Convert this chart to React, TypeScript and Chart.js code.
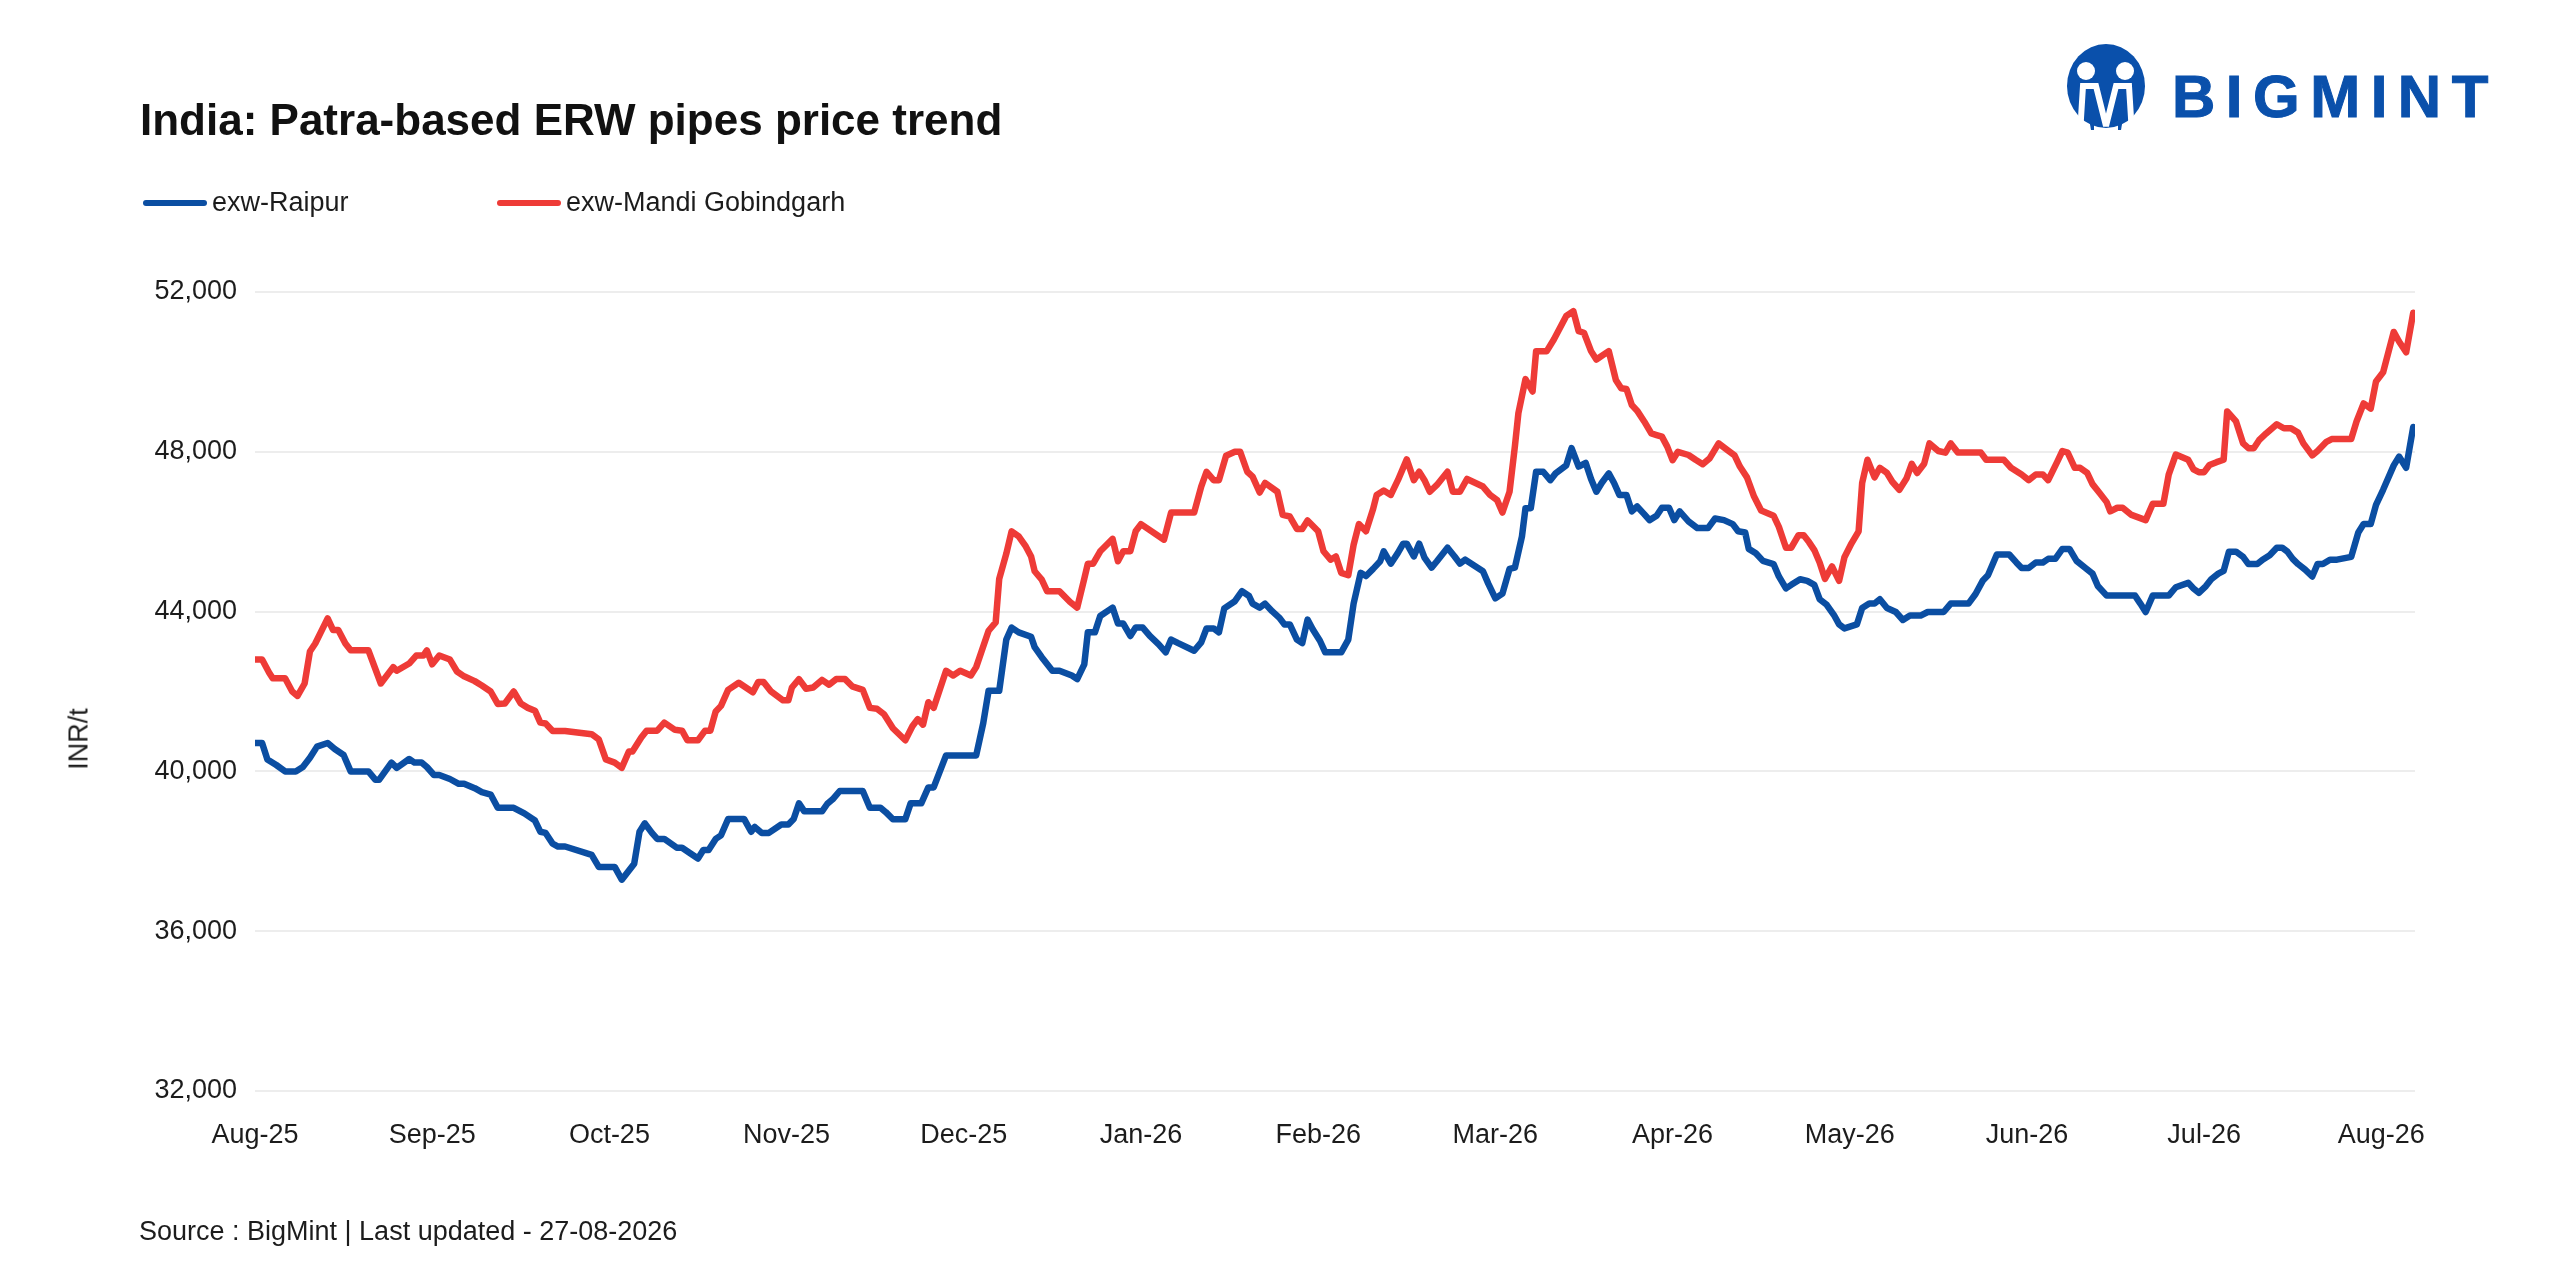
import { useEffect, useRef } from "react";
import { Chart, registerables } from "chart.js";
Chart.register(...registerables);

const monthLabels = ["Aug-25", "Sep-25", "Oct-25", "Nov-25", "Dec-25", "Jan-26", "Feb-26", "Mar-26", "Apr-26", "May-26", "Jun-26", "Jul-26", "Aug-26"];
const priceTicks = [32000, 36000, 40000, 44000, 48000, 52000];

// t = months elapsed since Aug-25
const raipurT = [
  0.00, 0.04, 0.07, 0.12, 0.17, 0.23, 0.27, 0.31, 0.35, 0.41, 0.45, 0.50, 0.54, 0.64, 0.68, 0.70, 0.77, 0.80, 0.87, 0.90,
  0.94, 0.97, 1.01, 1.04, 1.10, 1.15, 1.18, 1.24, 1.28, 1.33, 1.37, 1.46, 1.52, 1.58, 1.61, 1.64, 1.68, 1.71, 1.75, 1.90,
  1.94, 2.03, 2.07, 2.14, 2.17, 2.20, 2.24, 2.27, 2.31, 2.38, 2.41, 2.46, 2.50, 2.53, 2.56, 2.60, 2.63, 2.67, 2.76, 2.80,
  2.82, 2.86, 2.90, 2.97, 3.01, 3.04, 3.07, 3.10, 3.20, 3.23, 3.26, 3.30, 3.43, 3.47, 3.53, 3.56, 3.60, 3.67, 3.70, 3.76,
  3.80, 3.83, 3.90, 4.07, 4.11, 4.14, 4.20, 4.24, 4.27, 4.31, 4.38, 4.40, 4.44, 4.50, 4.54, 4.61, 4.64, 4.68, 4.70, 4.74,
  4.77, 4.84, 4.87, 4.90, 4.94, 4.97, 5.01, 5.05, 5.10, 5.14, 5.17, 5.21, 5.30, 5.34, 5.37, 5.41, 5.44, 5.47, 5.53, 5.57,
  5.61, 5.63, 5.67, 5.70, 5.74, 5.78, 5.81, 5.84, 5.88, 5.91, 5.94, 5.97, 6.01, 6.04, 6.13, 6.17, 6.20, 6.24, 6.27, 6.31,
  6.35, 6.37, 6.41, 6.45, 6.48, 6.50, 6.54, 6.57, 6.60, 6.64, 6.67, 6.73, 6.77, 6.80, 6.83, 6.93, 6.96, 7.00, 7.04, 7.08,
  7.11, 7.15, 7.17, 7.20, 7.23, 7.27, 7.31, 7.34, 7.40, 7.43, 7.47, 7.51, 7.54, 7.57, 7.60, 7.64, 7.67, 7.70, 7.74, 7.77,
  7.80, 7.84, 7.87, 7.91, 7.94, 7.98, 8.01, 8.04, 8.09, 8.14, 8.20, 8.24, 8.29, 8.34, 8.37, 8.41, 8.43, 8.47, 8.51, 8.57,
  8.60, 8.64, 8.67, 8.72, 8.76, 8.80, 8.83, 8.87, 8.91, 8.94, 8.97, 9.04, 9.07, 9.11, 9.14, 9.17, 9.21, 9.26, 9.30, 9.34,
  9.40, 9.44, 9.53, 9.57, 9.67, 9.71, 9.75, 9.78, 9.83, 9.90, 9.94, 9.97, 10.01, 10.05, 10.09, 10.12, 10.16, 10.20, 10.24, 10.28,
  10.33, 10.37, 10.40, 10.45, 10.61, 10.64, 10.67, 10.71, 10.80, 10.84, 10.91, 10.94, 10.97, 11.01, 11.04, 11.08, 11.11, 11.14, 11.18, 11.22,
  11.25, 11.30, 11.33, 11.37, 11.41, 11.44, 11.47, 11.50, 11.53, 11.57, 11.61, 11.64, 11.67, 11.71, 11.75, 11.83, 11.87, 11.90, 11.94, 11.97,
  12.01, 12.07, 12.10, 12.14, 12.18,
];
const raipurPrice = [
  40710, 40710, 40300, 40160, 40000, 40000, 40110, 40340, 40620, 40710, 40560, 40410, 40000, 40000, 39790, 39790, 40220, 40090, 40310, 40220,
  40220, 40110, 39910, 39910, 39810, 39690, 39690, 39580, 39480, 39420, 39090, 39090, 38950, 38770, 38490, 38460, 38190, 38120, 38120, 37910,
  37610, 37610, 37290, 37690, 38490, 38700, 38460, 38310, 38310, 38090, 38090, 37940, 37820, 38030, 38030, 38310, 38400, 38810, 38810, 38490,
  38610, 38460, 38460, 38670, 38670, 38810, 39200, 39000, 39000, 39190, 39300, 39510, 39510, 39090, 39090, 38980, 38800, 38800, 39200, 39200,
  39600, 39600, 40400, 40400, 41210, 42020, 42020, 43300, 43600, 43480, 43370, 43110, 42860, 42520, 42520, 42400, 42310, 42680, 43480, 43480,
  43890, 44100, 43700, 43700, 43390, 43600, 43600, 43390, 43180, 42980, 43300, 43210, 43020, 43230, 43580, 43580, 43480, 44080, 44260, 44510,
  44390, 44200, 44100, 44200, 44010, 43850, 43680, 43680, 43300, 43210, 43800, 43550, 43270, 42980, 42980, 43300, 44200, 44970, 44890, 45070,
  45260, 45510, 45200, 45470, 45700, 45700, 45380, 45700, 45350, 45100, 45260, 45600, 45380, 45200, 45300, 45010, 44700, 44330, 44450, 45070,
  45100, 45880, 46590, 46590, 47500, 47500, 47290, 47460, 47660, 48090, 47630, 47720, 47320, 47000, 47220, 47460, 47220, 46920, 46920, 46510,
  46630, 46440, 46290, 46400, 46600, 46600, 46290, 46510, 46260, 46090, 46090, 46330, 46290, 46190, 46010, 45980, 45570, 45460, 45270, 45190,
  44880, 44580, 44670, 44810, 44770, 44670, 44310, 44170, 43920, 43680, 43580, 43680, 44090, 44200, 44200, 44310, 44090, 43990, 43790, 43900,
  43900, 43990, 43990, 44200, 44200, 44440, 44770, 44910, 45430, 45430, 45230, 45090, 45090, 45230, 45230, 45320, 45320, 45570, 45570, 45270,
  45090, 44950, 44640, 44400, 44400, 44200, 43990, 44400, 44400, 44610, 44720, 44580, 44470, 44640, 44810, 44950, 45020, 45500, 45500, 45370,
  45190, 45190, 45300, 45410, 45600, 45600, 45500, 45320, 45190, 45050, 44880, 45190, 45190, 45300, 45300, 45370, 45980, 46190, 46190, 46670,
  47050, 47660, 47880, 47600, 48620,
];

const gobindgarhT = [
  0.00, 0.04, 0.08, 0.10, 0.17, 0.21, 0.24, 0.28, 0.31, 0.34, 0.41, 0.44, 0.47, 0.51, 0.54, 0.64, 0.71, 0.78, 0.80, 0.87,
  0.91, 0.95, 0.97, 1.00, 1.04, 1.10, 1.14, 1.18, 1.24, 1.28, 1.33, 1.37, 1.41, 1.46, 1.50, 1.54, 1.58, 1.61, 1.64, 1.68,
  1.75, 1.90, 1.94, 1.98, 2.03, 2.07, 2.11, 2.13, 2.18, 2.21, 2.27, 2.31, 2.37, 2.41, 2.44, 2.50, 2.54, 2.57, 2.60, 2.63,
  2.67, 2.73, 2.81, 2.84, 2.87, 2.91, 2.98, 3.01, 3.03, 3.07, 3.11, 3.15, 3.20, 3.24, 3.28, 3.33, 3.37, 3.43, 3.47, 3.51,
  3.55, 3.60, 3.67, 3.71, 3.74, 3.77, 3.80, 3.83, 3.90, 3.94, 3.98, 4.04, 4.07, 4.14, 4.18, 4.20, 4.24, 4.27, 4.31, 4.35,
  4.38, 4.40, 4.44, 4.47, 4.54, 4.60, 4.64, 4.68, 4.70, 4.73, 4.77, 4.84, 4.87, 4.90, 4.94, 4.97, 5.00, 5.13, 5.17, 5.30,
  5.34, 5.37, 5.41, 5.44, 5.48, 5.53, 5.56, 5.60, 5.63, 5.67, 5.70, 5.77, 5.80, 5.84, 5.88, 5.91, 5.94, 6.00, 6.03, 6.07,
  6.10, 6.13, 6.17, 6.20, 6.23, 6.27, 6.31, 6.33, 6.37, 6.41, 6.45, 6.50, 6.54, 6.57, 6.60, 6.63, 6.67, 6.73, 6.76, 6.80,
  6.84, 6.93, 6.97, 7.01, 7.04, 7.08, 7.11, 7.13, 7.17, 7.21, 7.23, 7.29, 7.33, 7.40, 7.44, 7.47, 7.50, 7.54, 7.57, 7.64,
  7.68, 7.71, 7.74, 7.77, 7.80, 7.84, 7.88, 7.91, 7.94, 7.97, 8.00, 8.03, 8.09, 8.13, 8.17, 8.21, 8.26, 8.31, 8.35, 8.38,
  8.42, 8.46, 8.50, 8.57, 8.60, 8.64, 8.67, 8.71, 8.74, 8.77, 8.80, 8.83, 8.86, 8.90, 8.94, 8.97, 9.01, 9.05, 9.07, 9.10,
  9.14, 9.17, 9.21, 9.24, 9.28, 9.32, 9.35, 9.38, 9.42, 9.45, 9.50, 9.54, 9.57, 9.61, 9.74, 9.77, 9.87, 9.91, 9.97, 10.01,
  10.05, 10.09, 10.12, 10.17, 10.20, 10.23, 10.27, 10.30, 10.34, 10.37, 10.41, 10.45, 10.47, 10.51, 10.54, 10.59, 10.67, 10.71, 10.77, 10.80,
  10.84, 10.91, 10.94, 10.97, 11.00, 11.03, 11.07, 11.11, 11.13, 11.18, 11.22, 11.25, 11.28, 11.31, 11.35, 11.41, 11.45, 11.49, 11.53, 11.56,
  11.61, 11.64, 11.69, 11.72, 11.83, 11.86, 11.90, 11.94, 11.97, 12.01, 12.07, 12.10, 12.14, 12.18,
];
const gobindgarhPrice = [
  42800, 42800, 42470, 42330, 42330, 42000, 41890, 42200, 43000, 43200, 43830, 43540, 43540, 43200, 43030, 43030, 42200, 42610, 42520, 42700,
  42900, 42900, 43030, 42680, 42900, 42800, 42500, 42380, 42260, 42150, 42000, 41690, 41700, 42000, 41700, 41590, 41520, 41220, 41200, 41010,
  41010, 40930, 40800, 40300, 40220, 40090, 40500, 40500, 40850, 41020, 41020, 41220, 41040, 41020, 40780, 40780, 41020, 41020, 41500, 41640,
  42040, 42220, 41980, 42240, 42240, 42010, 41780, 41780, 42100, 42310, 42070, 42100, 42290, 42170, 42310, 42310, 42130, 42040, 41590, 41570,
  41430, 41080, 40780, 41130, 41310, 41170, 41730, 41590, 42520, 42400, 42520, 42400, 42610, 43520, 43730, 44820, 45450, 46010, 45880, 45630,
  45380, 45010, 44800, 44510, 44510, 44240, 44100, 44820, 45200, 45200, 45510, 45820, 45260, 45510, 45510, 46010, 46190, 45800, 46480, 46480,
  47130, 47500, 47290, 47290, 47900, 48000, 48000, 47500, 47380, 46980, 47220, 47000, 46420, 46380, 46070, 46070, 46280, 46010, 45510, 45300,
  45380, 44970, 44910, 45670, 46190, 46010, 46570, 46920, 47030, 46920, 47290, 47810, 47290, 47500, 47290, 47000, 47170, 47500, 47000, 47000,
  47320, 47130, 46920, 46790, 46480, 47000, 48130, 48970, 49820, 49510, 50520, 50520, 50810, 51400, 51520, 51020, 50980, 50520, 50310, 50520,
  49800, 49590, 49570, 49170, 49030, 48760, 48460, 48420, 48380, 48130, 47790, 48000, 47920, 47800, 47690, 47840, 48210, 48040, 47910, 47630,
  47360, 46880, 46530, 46400, 46120, 45600, 45600, 45910, 45910, 45740, 45540, 45230, 44820, 45130, 44770, 45360, 45710, 46010, 47220, 47800,
  47360, 47600, 47470, 47250, 47050, 47330, 47700, 47470, 47700, 48210, 48020, 47980, 48210, 47980, 47980, 47800, 47800, 47600, 47430, 47290,
  47430, 47430, 47290, 47740, 48020, 47980, 47600, 47600, 47470, 47190, 46970, 46740, 46510, 46600, 46600, 46420, 46290, 46700, 46700, 47430,
  47930, 47800, 47560, 47490, 47490, 47670, 47740, 47800, 49010, 48760, 48210, 48090, 48090, 48290, 48460, 48690, 48590, 48590, 48480, 48210,
  47910, 48020, 48250, 48320, 48320, 48760, 49210, 49080, 49760, 49990, 51000, 50760, 50490, 51480,
];

const series = [
  { name: "exw-Raipur", color: "#0b4ea2", t: raipurT, price: raipurPrice },
  { name: "exw-Mandi Gobindgarh", color: "#ee3b37", t: gobindgarhT, price: gobindgarhPrice },
];

const FONT = "'Liberation Sans', Arial, Helvetica, sans-serif";
const INK = "#1c1c1c";

function PriceChart() {
  const canvasRef = useRef<HTMLCanvasElement>(null);

  useEffect(() => {
    if (!canvasRef.current) return;
    const chart = new Chart(canvasRef.current, {
      type: "line",
      data: {
        datasets: series.map((s) => ({
          label: s.name,
          data: s.t.map((t, i) => ({ x: t, y: s.price[i] })),
          borderColor: s.color,
          backgroundColor: s.color,
          borderWidth: 6.5,
          pointRadius: 0,
          tension: 0,
          borderJoinStyle: "round" as const,
          borderCapStyle: "round" as const,
        })),
      },
      options: {
        responsive: false,
        animation: false,
        devicePixelRatio: 1,
        layout: { padding: { top: 292, right: 145, bottom: 129, left: 0 } },
        plugins: { legend: { display: false }, tooltip: { enabled: false } },
        scales: {
          x: {
            type: "linear",
            min: 0,
            max: 12.19,
            grid: { display: false },
            border: { display: false },
            afterBuildTicks: (axis) => {
              axis.ticks = monthLabels.map((_, i) => ({ value: i }));
            },
            afterFit: (axis) => {
              axis.height = 60;
            },
            ticks: {
              autoSkip: false,
              maxRotation: 0,
              padding: 20,
              color: INK,
              font: { family: FONT, size: 27 },
              callback: (v) => monthLabels[Number(v)] ?? "",
            },
          },
          y: {
            min: 32000,
            max: 52000,
            grid: { color: "#ededed", lineWidth: 2, drawTicks: false },
            border: { display: false },
            afterBuildTicks: (axis) => {
              axis.ticks = priceTicks.map((v) => ({ value: v }));
            },
            afterFit: (axis) => {
              axis.width = 255;
            },
            ticks: {
              padding: 18,
              color: INK,
              font: { family: FONT, size: 27 },
              callback: (v) => Number(v).toLocaleString("en-US"),
            },
          },
        },
      },
    });
    return () => chart.destroy();
  }, []);

  return <canvas ref={canvasRef} width={2560} height={1280} style={{ position: "absolute", left: 0, top: 0, width: 2560, height: 1280 }} />;
}

function Logo() {
  const blue = "#0a50ab";
  return (
    <div style={{ position: "absolute", left: 2063, top: 40, height: 100, display: "flex", alignItems: "flex-start" }}>
      <svg width={88} height={96} viewBox="0 0 88 96">
        <ellipse cx={43} cy={46} rx={39} ry={42} fill={blue} />
        <circle cx={23} cy={31} r={9} fill="#fff" />
        <circle cx={62} cy={31} r={9} fill="#fff" />
        <polyline points="17,94 20,46 33,46 43,86 53,46 66,46 69,94" fill="none" stroke="#fff" strokeWidth={6} strokeLinejoin="miter" />
        <polygon points="25,73 31,73 31,90 28,90" fill={blue} />
        <polygon points="55,73 61,73 58,90 55,90" fill={blue} />
      </svg>
      <div style={{ marginLeft: 21, marginTop: 27, font: `bold 60px ${FONT}`, lineHeight: "60px", letterSpacing: 10.5, color: blue, WebkitTextStroke: `1px ${blue}` }}>
        BIGMINT
      </div>
    </div>
  );
}

export default function App() {
  return (
    <div style={{ position: "fixed", left: 0, top: 0, width: 2560, height: 1280, background: "#fff", overflow: "hidden" }}>
      <PriceChart />
      <div style={{ position: "absolute", left: 140, top: 98, font: `bold 44px ${FONT}`, lineHeight: "44px", color: "#111", whiteSpace: "nowrap" }}>
        India: Patra-based ERW pipes price trend
      </div>
      {series.map((s, i) => (
        <div key={s.name} style={{ position: "absolute", left: i === 0 ? 143 : 497, top: 189, display: "flex", alignItems: "center", height: 27 }}>
          <div style={{ width: 64, height: 6, borderRadius: 3, background: s.color }} />
          <div style={{ marginLeft: 5, font: `27px ${FONT}`, lineHeight: "27px", color: INK, whiteSpace: "nowrap" }}>{s.name}</div>
        </div>
      ))}
      <div style={{ position: "absolute", left: 79, top: 739, transform: "translate(-50%, -50%) rotate(-90deg)", font: `27px ${FONT}`, color: INK, whiteSpace: "nowrap" }}>
        INR/t
      </div>
      <div style={{ position: "absolute", left: 139, top: 1218, font: `27px ${FONT}`, lineHeight: "27px", color: INK, whiteSpace: "nowrap" }}>
        Source : BigMint | Last updated - 27-08-2026
      </div>
      <Logo />
    </div>
  );
}
